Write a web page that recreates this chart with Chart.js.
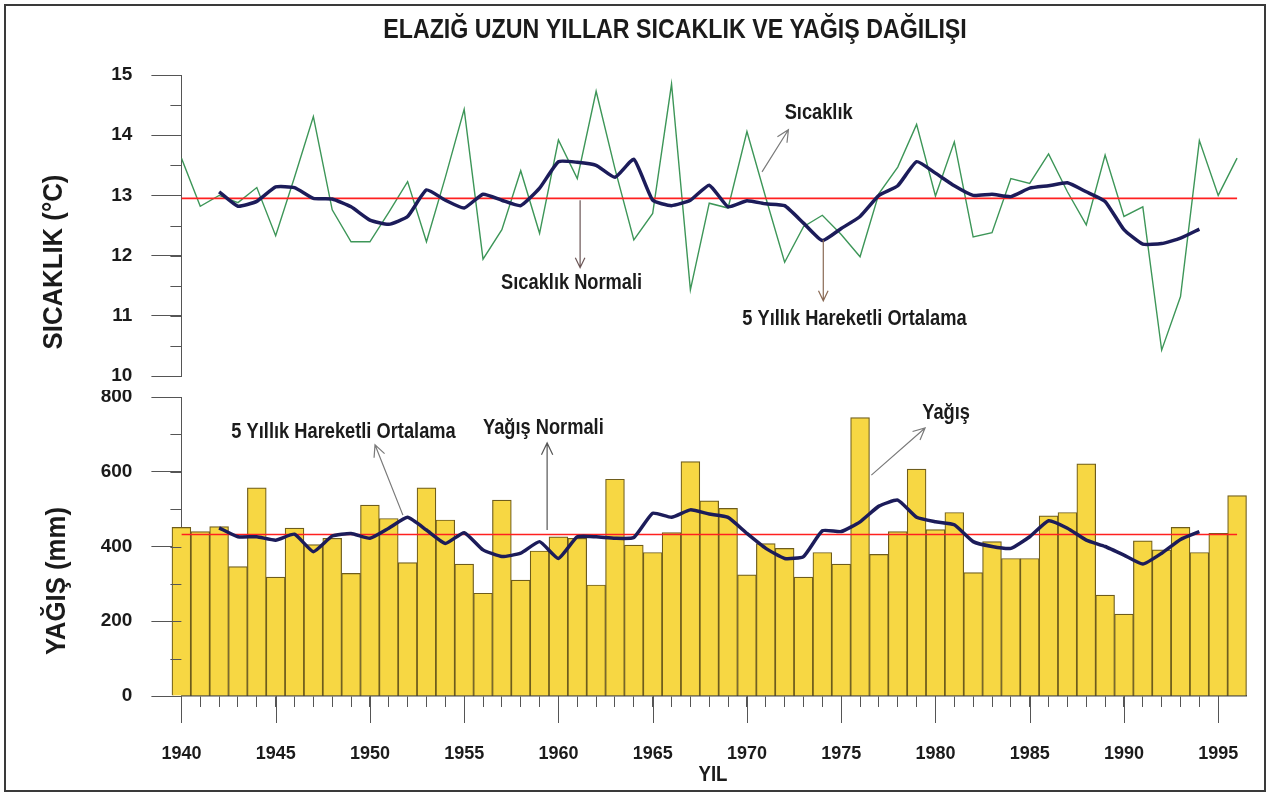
<!DOCTYPE html>
<html lang="tr">
<head>
<meta charset="utf-8">
<title>Elazığ uzun yıllar sıcaklık ve yağış dağılışı</title>
<script src="https://cdn.jsdelivr.net/npm/chart.js@4.4.1/dist/chart.umd.min.js"></script>
<style>
  html, body { margin: 0; padding: 0; background: #fff; }
  #wrap { position: relative; width: 1278px; height: 799px; overflow: hidden; }
  #tempChart { position: absolute; left: 0; top: 0; }
  #rainChart { position: absolute; left: 0; top: 390px; }
  #frame {
    position: absolute; left: 4px; top: 4px; width: 1262px; height: 788px;
    border: 2px solid #3a3a3a; box-sizing: border-box; pointer-events: none;
  }
</style>
</head>
<body>
<div id="wrap">
  <canvas id="tempChart" width="1278" height="390"></canvas>
  <canvas id="rainChart" width="1278" height="409"></canvas>
  <div id="frame"></div>
</div>
<script>
/**
 * Years on the x axis.
 * @type {Array<number>}
 */
const years = [
  1940, 1941, 1942, 1943, 1944, 1945, 1946, 1947, 1948, 1949,
  1950, 1951, 1952, 1953, 1954, 1955, 1956, 1957, 1958, 1959,
  1960, 1961, 1962, 1963, 1964, 1965, 1966, 1967, 1968, 1969,
  1970, 1971, 1972, 1973, 1974, 1975, 1976, 1977, 1978, 1979,
  1980, 1981, 1982, 1983, 1984, 1985, 1986, 1987, 1988, 1989,
  1990, 1991, 1992, 1993, 1994, 1995, 1996,
];
// yearly mean temperature (°C)
const temperature = [
  13.62, 12.82, 13.0, 12.88, 13.13, 12.33, 13.3, 14.31, 12.76, 12.23,
  12.23, 12.72, 13.23, 12.23, 13.3, 14.43, 11.94, 12.43, 13.41, 12.37,
  13.92, 13.28, 14.73, 13.44, 12.26, 12.7, 14.85, 11.43, 12.87, 12.79,
  14.06, 12.96, 11.89, 12.48, 12.67, 12.35, 11.98, 13.03, 13.47, 14.18,
  12.99, 13.89, 12.31, 12.38, 13.28, 13.2, 13.69, 13.06, 12.51, 13.67,
  12.65, 12.81, 10.43, 11.32, 13.91, 13.0, 13.62,
];
// 5 year moving average of temperature
const temperatureAvg = [
  null, null, 13.06, 12.82, 12.9, 13.14, 13.13, 12.95, 12.94, 12.81,
  12.59, 12.52, 12.65, 13.09, 12.92, 12.79, 13.02, 12.92, 12.83, 13.12,
  13.56, 13.55, 13.5, 13.3, 13.6, 12.92, 12.83, 12.92, 13.17, 12.81,
  12.91, 12.86, 12.83, 12.54, 12.25, 12.45, 12.65, 13.0, 13.16, 13.56,
  13.37, 13.16, 13.0, 13.02, 12.98, 13.12, 13.16, 13.21, 13.06, 12.9,
  12.43, 12.19, 12.2, 12.29, 12.44, null, null,
];
const temperatureNormal = 12.95;

// yearly precipitation (mm)
const precipitation = [
  451, 440, 453, 346, 557, 318, 449, 405, 422, 328,
  511, 475, 357, 557, 471, 353, 275, 524, 310, 388,
  426, 422, 297, 580, 404, 384, 437, 627, 522, 502,
  324, 408, 395, 318, 384, 353, 745, 379, 440, 607,
  445, 491, 330, 413, 368, 368, 482, 491, 621, 270,
  219, 415, 391, 451, 384, 435, 536,
];
// 5 year moving average of precipitation
const precipitationAvg = [
  null, null, 450, 426, 426, 417, 433, 386, 428, 435,
  422, 449, 478, 444, 408, 437, 391, 373, 382, 413,
  368, 426, 426, 422, 424, 489, 478, 498, 487, 478,
  435, 395, 368, 373, 442, 440, 466, 508, 524, 478,
  466, 458, 413, 400, 395, 426, 469, 449, 417, 400,
  377, 353, 382, 419, 440, null, null,
];
const precipitationNormal = 432;

const sans = "'Liberation Sans', Arial, sans-serif";
const ink = "#1b1b1b";
const axisColor = "#555";

/**
 * Turns a value array into {x, y} points on the year axis.
 * @param {Array<number|null>} values
 * @returns {Array<{x:number, y:number|null}>}
 */
function toPoints(values) {
  return years.map((year, i) => ({ x: year, y: values[i] }));
}

/**
 * Flat normal line across all years.
 * @param {number} value
 */
function normalLine(value) {
  return [
    { x: years[0], y: value },
    { x: years[years.length - 1], y: value },
  ];
}

/**
 * Builds a plugin that draws minor ticks, long year ticks, texts and arrows.
 * Texts/arrows use data coordinates (at) or canvas pixels (px).
 * @param {object} cfg
 */
function makeDecor(cfg) {
  return {
    id: "decor",
    afterDraw(chart) {
      const { ctx, chartArea } = chart;
      const xs = chart.scales.x;
      const ys = chart.scales.y;
      const pos = (p) =>
        p.at
          ? [xs.getPixelForValue(p.at[0]), ys.getPixelForValue(p.at[1])]
          : p.px;
      ctx.save();
      ctx.strokeStyle = axisColor;
      ctx.lineWidth = 1;
      for (let v = ys.min; v <= ys.max + 1e-9; v += cfg.minorStep) {
        const py = Math.round(ys.getPixelForValue(v)) + 0.5;
        ctx.beginPath();
        ctx.moveTo(chartArea.left - cfg.minorLength, py);
        ctx.lineTo(chartArea.left, py);
        ctx.stroke();
      }
      if (cfg.longTicks) {
        years
          .filter((yr) => yr % 5 === 0)
          .forEach((yr) => {
            const px = Math.round(xs.getPixelForValue(yr)) + 0.5;
            ctx.beginPath();
            ctx.moveTo(px, chartArea.bottom);
            ctx.lineTo(px, chartArea.bottom + cfg.longTicks);
            ctx.stroke();
          });
      }
      (cfg.arrows || []).forEach((a) => {
        const [x1, y1] = pos({ at: a.from });
        const [x2, y2] = pos({ at: a.to });
        const ang = Math.atan2(y2 - y1, x2 - x1);
        const len = a.head || 13;
        ctx.strokeStyle = a.color || "#7a7a7a";
        ctx.lineWidth = 1.2;
        ctx.beginPath();
        ctx.moveTo(x1, y1);
        ctx.lineTo(x2, y2);
        ctx.moveTo(x2 - len * Math.cos(ang - 0.45), y2 - len * Math.sin(ang - 0.45));
        ctx.lineTo(x2, y2);
        ctx.lineTo(x2 - len * Math.cos(ang + 0.45), y2 - len * Math.sin(ang + 0.45));
        ctx.stroke();
      });
      (cfg.labels || []).forEach((t) => {
        const [px, py] = pos(t);
        ctx.save();
        ctx.font = t.font;
        ctx.fillStyle = ink;
        ctx.textAlign = t.align || "center";
        ctx.textBaseline = "middle";
        ctx.translate(px, py);
        if (t.rotate) ctx.rotate(-Math.PI / 2);
        ctx.scale(t.stretch || 1, 1);
        ctx.fillText(t.text, 0, 0);
        ctx.restore();
      });
      ctx.restore();
    },
  };
}

/**
 * Common y axis look: long major ticks, labels left of them.
 */
function yAxis(min, max, stepSize) {
  return {
    min,
    max,
    ticks: {
      stepSize,
      padding: 19,
      color: ink,
      font: { family: sans, size: 19, weight: "bold" },
    },
    grid: { drawOnChartArea: false, tickLength: 30, tickColor: axisColor },
    border: { color: axisColor, width: 1 },
    afterFit(scale) {
      scale.width = 181.4;
      scale.paddingTop = 0;
      scale.paddingBottom = 0;
    },
  };
}

const noteFont = "bold 22px " + sans;
const noteStretch = 0.83;

new Chart(document.getElementById("tempChart"), {
  type: "line",
  data: {
    datasets: [
      {
        label: "5 Yıllık Hareketli Ortalama",
        data: toPoints(temperatureAvg),
        borderColor: "#1c1c5a",
        borderWidth: 3.5,
        tension: 0.15,
        pointRadius: 0,
        order: 0,
      },
      {
        label: "Sıcaklık Normali",
        data: normalLine(temperatureNormal),
        borderColor: "#ff2020",
        borderWidth: 1.6,
        pointRadius: 0,
        order: 1,
      },
      {
        label: "Sıcaklık",
        data: toPoints(temperature),
        borderColor: "#3d9658",
        borderWidth: 1.4,
        pointRadius: 0,
        order: 2,
      },
    ],
  },
  options: {
    responsive: false,
    animation: false,
    layout: { padding: { top: 75, right: 31.5, bottom: 14, left: 0 } },
    plugins: { legend: { display: false }, tooltip: { enabled: false } },
    scales: {
      x: { type: "linear", min: 1940, max: 1996.5, offset: false, display: false },
      y: yAxis(10, 15, 1),
    },
  },
  plugins: [
    makeDecor({
      minorStep: 0.5,
      minorLength: 11,
      arrows: [
        { from: [1970.8, 13.39], to: [1972.2, 14.09] },
        { from: [1961.15, 12.92], to: [1961.15, 11.8], color: "#6b5555", head: 11 },
        { from: [1974.05, 12.26], to: [1974.05, 11.25], color: "#8a6a55", head: 11 },
      ],
      labels: [
        { text: "ELAZIĞ UZUN YILLAR SICAKLIK VE YAĞIŞ DAĞILIŞI", px: [675, 31], font: "bold 27px " + sans, stretch: 0.86 },
        { text: "SICAKLIK (°C)", px: [54, 262], rotate: true, font: "bold 28px " + sans, stretch: 0.92 },
        { text: "Sıcaklık", at: [1972.0, 14.37], align: "left", font: noteFont, stretch: noteStretch },
        { text: "Sıcaklık Normali", at: [1960.7, 11.54], font: noteFont, stretch: noteStretch },
        { text: "5 Yıllık Hareketli Ortalama", at: [1975.7, 10.95], font: noteFont, stretch: noteStretch },
      ],
    }),
  ],
});

new Chart(document.getElementById("rainChart"), {
  type: "bar",
  data: {
    datasets: [
      {
        type: "line",
        label: "5 Yıllık Hareketli Ortalama",
        data: toPoints(precipitationAvg),
        borderColor: "#1c1c5a",
        borderWidth: 3.5,
        tension: 0.15,
        pointRadius: 0,
        order: 0,
      },
      {
        type: "line",
        label: "Yağış Normali",
        data: normalLine(precipitationNormal),
        borderColor: "#ff2020",
        borderWidth: 1.6,
        pointRadius: 0,
        order: 1,
      },
      {
        label: "Yağış",
        data: toPoints(precipitation),
        backgroundColor: "#f7d743",
        borderColor: "#6e5c1c",
        borderWidth: 1.2,
        barPercentage: 1,
        categoryPercentage: 1,
        clip: false,
        order: 2,
      },
    ],
  },
  options: {
    responsive: false,
    animation: false,
    layout: { padding: { top: 7, right: 31.5, bottom: 0, left: 0 } },
    plugins: { legend: { display: false }, tooltip: { enabled: false } },
    scales: {
      x: {
        type: "linear",
        min: 1940,
        max: 1996.5,
        offset: false,
        grid: { offset: false, drawOnChartArea: false, tickLength: 11, tickColor: axisColor },
        border: { color: "#444", width: 1.5 },
        ticks: {
          stepSize: 1,
          autoSkip: false,
          maxRotation: 0,
          padding: 36,
          color: ink,
          font: { family: sans, size: 18, weight: "bold" },
          callback: (value) => (value % 5 === 0 ? String(value) : ""),
        },
        afterBuildTicks(scale) {
          scale.ticks = scale.ticks.filter((t) => Number.isInteger(t.value));
        },
        afterFit(scale) {
          scale.height = 103;
          scale.paddingLeft = 0;
          scale.paddingRight = 0;
        },
      },
      y: yAxis(0, 800, 200),
    },
  },
  plugins: [
    makeDecor({
      minorStep: 100,
      minorLength: 11,
      longTicks: 27,
      arrows: [
        { from: [1951.75, 484], to: [1950.27, 672] },
        { from: [1959.4, 444], to: [1959.4, 677], color: "#555" },
        { from: [1976.6, 591], to: [1979.45, 717] },
      ],
      labels: [
        { text: "YAĞIŞ (mm)", px: [57, 191], rotate: true, font: "bold 28px " + sans, stretch: 0.92 },
        { text: "YIL", px: [713, 385], font: "bold 22px " + sans, stretch: 0.85 },
        { text: "5 Yıllık Hareketli Ortalama", at: [1948.6, 706], font: noteFont, stretch: noteStretch },
        { text: "Yağış Normali", at: [1959.2, 717], font: noteFont, stretch: noteStretch },
        { text: "Yağış", at: [1979.3, 757], align: "left", font: noteFont, stretch: noteStretch },
      ],
    }),
  ],
});
</script>
</body>
</html>
